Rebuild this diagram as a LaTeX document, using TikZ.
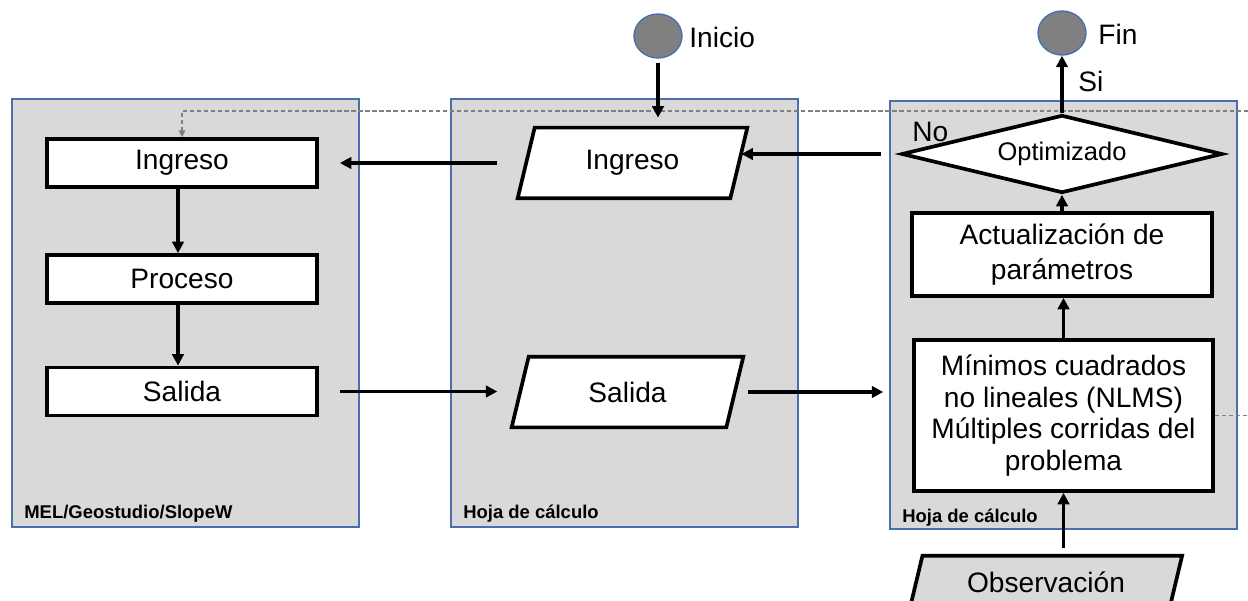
\documentclass[tikz,border=0pt]{standalone}
\usepackage{fontspec}
\setmainfont{Liberation Sans}
\usetikzlibrary{shapes.geometric,arrows.meta,backgrounds}
\definecolor{panelfill}{HTML}{D9D9D9}
\definecolor{panelline}{HTML}{4A6FAD}
\definecolor{loopgray}{HTML}{808080}
\definecolor{termfill}{HTML}{808080}

\begin{document}
\begin{tikzpicture}[x=0.02cm,y=-0.02cm,
  panelbox/.style={draw=panelline, fill=panelfill, line width=0.8pt},
  paneltag/.style={anchor=base west, inner sep=0, font=\bfseries\fontsize{10.5}{12}\selectfont},
  bodyfont/.style={font=\fontsize{16}{18}\selectfont},
  procbox/.style={draw, line width=2.1pt, fill=white, minimum width=5.4cm,
    minimum height=0.96cm, inner sep=0, bodyfont},
  % text holder of an input/output parallelogram (outline drawn behind it)
  iotext/.style={rectangle, inner sep=0, minimum height=1.4cm, bodyfont},
  ioshape/.style={draw, line width=2.1pt, fill=white, line join=miter},
  terminal/.style={ellipse, draw=panelline, fill=termfill, line width=0.8pt,
    minimum width=0.96cm, minimum height=0.88cm, inner sep=0},
  txt/.style={anchor=base west, inner sep=0, bodyfont},
  flow/.style={line width=1.9pt, -{Triangle[length=6.5pt,width=6.5pt]}},
  feedback/.style={draw=loopgray, line width=0.6pt, dash pattern=on 2.5pt off 1.5pt,
    -{Triangle[length=3.8pt,width=3.8pt]}},
]
\useasboundingbox (0,0) rectangle (1248,601);

% three software panels
\begin{scope}[on background layer]
\draw[panelbox] (12,99) rectangle (359,527);
\draw[panelbox] (451,99) rectangle (798,527);
\draw[panelbox] (890,101) rectangle (1237,529);
\end{scope}
\node[paneltag] (tagA) at (24,518) {MEL/Geostudio/SlopeW};
\node[paneltag] (tagB) at (463,518) {Hoja de cálculo};
\node[paneltag] (tagC) at (902,522) {Hoja de cálculo};

% MEL / Geostudio / SlopeW
\node[procbox] (ingr1) at (182,163) {Ingreso};
\node[procbox] (proc1) at (182,279) {Proceso};
\node[procbox] (sal1)  at (182,391.5) {Salida};

% spreadsheet (exchange)
\node[terminal] (inicio) at (658,36) {};
\node[txt] (inicioT) at (689,48) {Inicio};
\node[iotext, minimum width=4.24cm] (ingr2) at (632.5,163) {Ingreso};
\node[iotext, minimum width=4.28cm] (sal2) at (627.5,392) {Salida};

% spreadsheet (optimisation)
\node[terminal] (fin) at (1062,33) {};
\node[txt] (finT) at (1098,45) {Fin};
\node[diamond, draw, line width=2.1pt, fill=white, inner sep=0, aspect=4,
  minimum width=6.42cm, minimum height=1.56cm,
  font=\fontsize{14.5}{16}\selectfont] (opt) at (1062,154) {Optimizado};
\node[procbox, minimum width=6.0cm, minimum height=1.66cm, align=center,
  font=\fontsize{16}{19.5}\selectfont] (act) at (1062,254.5)
  {Actualización de\\parámetros};
\node[procbox, minimum width=5.98cm, minimum height=3.02cm, align=center,
  font=\fontsize{16}{18}\selectfont] (nlms) at (1063.5,415.5)
  {Mínimos cuadrados\\no lineales (NLMS)\\Múltiples corridas del\\problema};
\node[iotext, minimum width=5.18cm, minimum height=1.04cm] (obs)
  at (1046,582) {Observación};

\node[txt] (siT) at (1078,92) {Si};
\node[txt] (noT) at (912,142) {No};

% parallelogram outlines (slant of about 76 degrees)
\begin{scope}[on background layer]
\foreach \n/\s in {ingr2/8.5, sal2/8.5} {
  \draw[ioshape] ([xshift=-\s*0.02cm]\n.south west) -- ([xshift=\s*0.02cm]\n.north west)
    -- ([xshift=\s*0.02cm]\n.north east) -- ([xshift=-\s*0.02cm]\n.south east) -- cycle;
}
\draw[ioshape, fill=panelfill] ([xshift=-6.3*0.02cm]obs.south west) -- ([xshift=6.3*0.02cm]obs.north west)
  -- ([xshift=6.3*0.02cm]obs.north east) -- ([xshift=-6.3*0.02cm]obs.south east) -- cycle;
\end{scope}

% loop back to the model input (leaves the sheet on the right)
\coordinate (loopR) at (1262,111);
\draw[feedback] (nlms.east) -| (loopR) -| (ingr1.north);

% main flow
\draw[flow, shorten <=2.3pt, shorten >=5.7pt] (inicio.south) -- (inicio.south |- ingr2.north);
\draw[flow, shorten <=16.5pt, shorten >=12pt] (ingr2.west) -- (ingr1.east);
\draw[flow] ([xshift=-0.08cm]ingr1.south) -- ([xshift=-0.08cm]proc1.north);
\draw[flow] ([xshift=-0.08cm]proc1.south) -- ([xshift=-0.08cm]sal1.north);
\draw[flow, shorten <=12pt, shorten >=13pt] (sal1.east) -- (sal1.east -| sal2.west);
\draw[flow, shorten <=7.7pt, shorten >=16.5pt] (sal2.east) -- (sal2.east -| nlms.west);
\draw[flow, shorten <=10.8pt, shorten >=1.5pt] (opt.west) -- (opt.west -| ingr2.east);
\draw[flow] (opt.north) -- (fin.south);
\draw[flow] (act.north) -- (opt.south);
\draw[flow] (nlms.north) -- (nlms.north |- act.south);
\draw[flow, shorten <=4.5pt] (nlms.south |- obs.north) -- (nlms.south);
\end{tikzpicture}
\end{document}
